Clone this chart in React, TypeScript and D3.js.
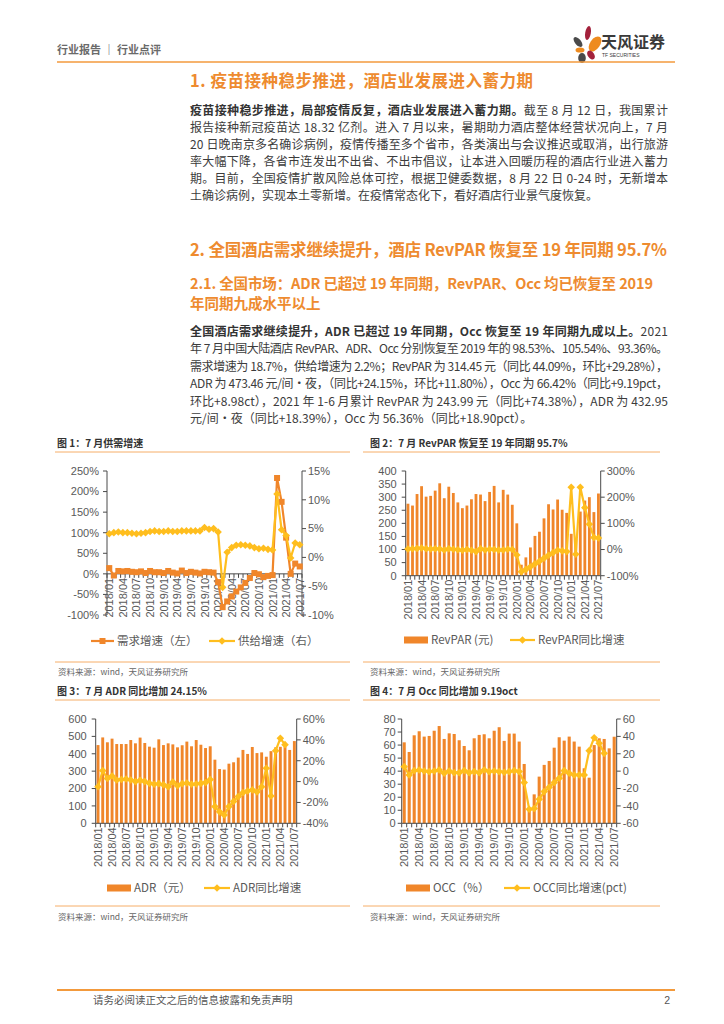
import React from "react";
import * as d3 from "d3";

// ---------- DATA ----------
const months = [
  "2018/01","2018/02","2018/03","2018/04","2018/05","2018/06","2018/07","2018/08","2018/09","2018/10","2018/11","2018/12",
  "2019/01","2019/02","2019/03","2019/04","2019/05","2019/06","2019/07","2019/08","2019/09","2019/10","2019/11","2019/12",
  "2020/01","2020/02","2020/03","2020/04","2020/05","2020/06","2020/07","2020/08","2020/09","2020/10","2020/11","2020/12",
  "2021/01","2021/02","2021/03","2021/04","2021/05","2021/06","2021/07",
];
const xTickLabels = [
  "2018/01","2018/04","2018/07","2018/10","2019/01","2019/04","2019/07","2019/10",
  "2020/01","2020/04","2020/07","2020/10","2021/01","2021/04","2021/07",
];

// Chart 1: demand growth (left, %), supply growth (right, %)
const demandGrowth = [
  14, -4, 7, 6, 7, 5, 4, 6, 2, 7, 4, 4,
  2, 7, 3, 1, 8, 2, 5, 3, 1, 5, 4, 3,
  -20, -81, -67, -55, -43, -33, -22, -10, 2, -1, -8, -5,
  -3, 233, 175, 88, 0, 25, 18,
];
const supplyGrowth = [
  4.1, 4.3, 4.4, 4.3, 4.3, 4.2, 4.1, 4.2, 4.3, 4.5, 4.6, 4.5,
  4.5, 4.6, 4.5, 4.5, 4.6, 4.6, 4.6, 4.6, 4.6, 5.2, 4.9, 5.0,
  4.4, -5.2, 0.9, 1.7, 2.1, 2.2, 2.1, 2.0, 1.7, 1.5, 1.6, 1.4,
  1.3, 11.0, 4.8, 3.8, -0.1, 2.5, 2.2,
];

// Chart 2: RevPAR (yuan) and YoY (%)
const revpar = [
  275, 268, 312, 342, 302, 305, 325, 353, 296, 340, 316, 280,
  258, 268, 292, 312, 310, 285, 320, 343, 280, 328, 310, 271,
  200, 42, 70, 108, 152, 168, 219, 273, 253, 291, 252, 240,
  160, 140, 245, 287, 300, 243, 314,
];
const revparYoY = [
  2, 3, 4, 6, 3, 2, 3, 2, -2, 3, 1, -1,
  -3, 0, -3, -8, 3, -2, 1, 0, -2, -2, 1, 0,
  -21, -85, -76, -66, -55, -45, -33, -22, -12, -3, -5, -8,
  238, -18, 238, 160, 97, 46, 44,
];

// Chart 3: ADR (yuan) and YoY (%)
const adr = [
  450, 494, 466, 487, 456, 456, 456, 479, 460, 493, 462, 441,
  435, 483, 450, 460, 454, 437, 449, 470, 443, 479, 452, 433,
  443, 366, 312, 309, 343, 351, 378, 422, 399, 439, 404, 408,
  383, 415, 437, 440, 442, 422, 473,
];
const adrYoY: (number | null)[] = [
  -5, 10.5, 3, 5.4, 1.5, 2, 2.5, 1.5, 0, 1.2, 0, -1.7,
  -2.6, -2, -3, -5, -0.4, -4, -2, -1.3, -2.6, -2.3, -1.7, -1,
  1.9, -24, -29, -32, -24, -19, -14.4, -10.6, -9, -8, -10, -5,
  12.8, -13.8, 29.6, 41.5, 35.4, null, null,
];

// Chart 4: OCC (%) and YoY (pct)
const occ = [
  62.1, 54.7, 67.5, 70.6, 66.5, 67, 71, 74.6, 64.7, 69, 68.5, 63.7,
  59.3, 56, 65.2, 67.8, 68.3, 65.2, 71, 73.7, 63.2, 68.8, 68.8, 62.7,
  45.5, 11, 22.2, 35.8, 44.8, 47.8, 58, 66, 63.4, 66.5, 62.7, 58.8,
  42.2, 35, 60, 65.2, 64.7, 57.5, 66.4,
];
const occYoY: (number | null)[] = [
  5.2, -4.4, 0.6, 1.4, 0.2, -0.5, 0.2, 1.4, -2.4, 0.2, -1.7, -1.7,
  0.6, -1.7, -0.5, -1.7, 1.4, -0.5, 0.2, -0.5, -1.3, -0.5, 0.6, -0.5,
  -13.2, -43.9, -43, -32.4, -23.5, -18.6, -13.2, -8.2, 0.6, -2.4, -4.4, -4.4,
  -4.4, 23.6, 38.5, 32, 20.5, null, null,
];

const ticks1L = [-100, -50, 0, 50, 100, 150, 200, 250];
const ticks1R = [-10, -5, 0, 5, 10, 15];
const ticks2L = [0, 50, 100, 150, 200, 250, 300, 350, 400];
const ticks2R = [-100, 0, 100, 200, 300];
const ticks3L = [0, 100, 200, 300, 400, 500, 600];
const ticks3R = [-40, -20, 0, 20, 40, 60];
const ticks4L = [0, 10, 20, 30, 40, 50, 60, 70, 80];
const ticks4R = [-60, -40, -20, 0, 20, 40, 60];

// ---------- STYLE ----------
const ORANGE_T = "#EE8B2F";
const RULE = "#F39A3C";
const RULE_L = "#F6AE68";
const BAR = "#F0862A";
const LINE_Y = "#FFBE1E";
const LINE_O = "#F0862A";
const AXIS = "#4a4a4a";
const TICK_TXT = "#595959";
const BODY = "#3c3c3c";
const CJK = "'Noto Sans CJK SC', 'Noto Sans', sans-serif";
const LAT = "'Liberation Sans', Arial, sans-serif";

const diamond = (cx: number, cy: number, r: number) =>
  `M${cx},${cy - r}L${cx + r},${cy}L${cx},${cy + r}L${cx - r},${cy}Z`;

type LineSpec = {
  values: (number | null)[];
  axis: "left" | "right";
  color: string;
  marker: "square" | "diamond";
};
type LegendItem = {
  kind: "bar" | "line";
  color: string;
  marker?: "square" | "diamond";
  x1: number;
  x2: number;
  label: string;
};

function Marker({ kind, x, y, color }: { kind: "square" | "diamond"; x: number; y: number; color: string }) {
  if (kind === "square") return <rect x={x - 3} y={y - 3} width={6} height={6} fill={color} />;
  return <path d={diamond(x, y, 3.8)} fill={color} />;
}

function DualChart(props: {
  left: number; right: number; top: number; bottom: number;
  leftDomain: [number, number]; rightDomain: [number, number];
  leftTicks: number[]; rightTicks: number[];
  leftFmt: (v: number) => string; rightFmt: (v: number) => string;
  base: number; bars?: number[]; lines: LineSpec[];
  legendY: number; legend: LegendItem[]; leftGap: number;
}) {
  const { left, right, top, bottom, leftDomain, rightDomain, leftTicks, rightTicks, leftFmt, rightFmt, base, bars, lines, legendY, legend, leftGap } = props;
  const x = d3.scaleBand<string>().domain(months).range([left, right]);
  const bw = x.bandwidth();
  const cx = (i: number) => (x(months[i]) ?? 0) + bw / 2;
  const yL = d3.scaleLinear().domain(leftDomain).range([bottom, top]);
  const yR = d3.scaleLinear().domain(rightDomain).range([bottom, top]);
  const axisY = yL(base);
  const barW = bw * 0.62;

  return (
    <g>
      {bars &&
        bars.map((v, i) => (
          <rect key={i} x={cx(i) - barW / 2} width={barW} y={yL(v)} height={yL(0) - yL(v)} fill={BAR} />
        ))}
      {/* left axis */}
      <line x1={left} x2={left} y1={top} y2={bottom} stroke={AXIS} strokeWidth={1} />
      {leftTicks.map((t) => (
        <g key={"l" + t}>
          <line x1={left - 4} x2={left} y1={yL(t)} y2={yL(t)} stroke={AXIS} />
          <text x={left - leftGap} y={yL(t)} dy="0.35em" textAnchor="end" fontSize={11} fill={TICK_TXT} fontFamily={LAT}>
            {leftFmt(t)}
          </text>
        </g>
      ))}
      {/* right axis */}
      <line x1={right} x2={right} y1={top} y2={bottom} stroke={AXIS} strokeWidth={1} />
      {rightTicks.map((t) => (
        <g key={"r" + t}>
          <line x1={right} x2={right + 4} y1={yR(t)} y2={yR(t)} stroke={AXIS} />
          <text x={right + 6} y={yR(t)} dy="0.35em" textAnchor="start" fontSize={11} fill={TICK_TXT} fontFamily={LAT}>
            {rightFmt(t)}
          </text>
        </g>
      ))}
      {/* x axis */}
      <line x1={left} x2={right} y1={axisY} y2={axisY} stroke={AXIS} />
      {months.map((m) => (
        <line key={m} x1={x(m)} x2={x(m)} y1={axisY} y2={axisY + 4} stroke={AXIS} />
      ))}
      <line x1={right} x2={right} y1={axisY} y2={axisY + 4} stroke={AXIS} />
      {xTickLabels.map((lab) => {
        const px = (x(lab) ?? 0) + bw / 2 + 4;
        const py = axisY + 4;
        return (
          <text key={lab} transform={`translate(${px},${py}) rotate(-90)`} textAnchor="end" fontSize={11} fill={TICK_TXT} fontFamily={LAT}>
            {lab}
          </text>
        );
      })}
      {/* lines */}
      {lines.map((ls, k) => {
        const ys = ls.axis === "left" ? yL : yR;
        const gen = d3
          .line<number | null>()
          .defined((d) => d !== null)
          .x((_, i) => cx(i))
          .y((d) => ys(d as number));
        return (
          <g key={k}>
            <path d={gen(ls.values) ?? ""} fill="none" stroke={ls.color} strokeWidth={2.2} strokeLinejoin="round" />
            {ls.values.map((v, i) =>
              v === null ? null : <Marker key={i} kind={ls.marker} x={cx(i)} y={ys(v)} color={ls.color} />
            )}
          </g>
        );
      })}
      {/* legend */}
      {legend.map((it, k) => (
        <g key={"lg" + k}>
          {it.kind === "bar" ? (
            <rect x={it.x1} y={legendY - 3.5} width={it.x2 - it.x1} height={7} fill={it.color} />
          ) : (
            <g>
              <line x1={it.x1} x2={it.x2} y1={legendY} y2={legendY} stroke={it.color} strokeWidth={2.2} />
              <Marker kind={it.marker || "diamond"} x={(it.x1 + it.x2) / 2} y={legendY} color={it.color} />
            </g>
          )}
          <text x={it.x2 + 3} y={legendY} dy="0.36em" fontSize={11.5} fill={TICK_TXT} fontFamily={CJK}>
            {it.label}
          </text>
        </g>
      ))}
    </g>
  );
}

type Seg = { t: string; b?: boolean };
function PLine({ x, y, w, segs, size, color }: { x: number; y: number; w?: number; segs: Seg[]; size: number; color: string }) {
  return (
    <text x={x} y={y} fontSize={size} fill={color} fontFamily={CJK} textLength={w} lengthAdjust={w ? "spacing" : undefined}>
      {segs.map((s, i) => (
        <tspan key={i} fontWeight={s.b ? 700 : 400} fill={s.b ? "#333" : color}>
          {s.t}
        </tspan>
      ))}
    </text>
  );
}

const para1: Seg[][] = [
  [{ t: "疫苗接种稳步推进，局部疫情反复，酒店业发展进入蓄力期。", b: true }, { t: "截至 8 月 12 日，我国累计" }],
  [{ t: "报告接种新冠疫苗达 18.32 亿剂。进入 7 月以来，暑期助力酒店整体经营状况向上，7 月" }],
  [{ t: "20 日晚南京多名确诊病例，疫情传播至多个省市，各类演出与会议推迟或取消，出行旅游" }],
  [{ t: "率大幅下降，各省市连发出不出省、不出市倡议，让本进入回暖历程的酒店行业进入蓄力" }],
  [{ t: "期。目前，全国疫情扩散风险总体可控，根据卫健委数据，8 月 22 日 0-24 时，无新增本" }],
  [{ t: "土确诊病例，实现本土零新增。在疫情常态化下，看好酒店行业景气度恢复。" }],
];
const para2: Seg[][] = [
  [{ t: "全国酒店需求继续提升，ADR 已超过 19 年同期，Occ 恢复至 19 年同期九成以上。", b: true }, { t: "2021" }],
  [{ t: "年 7 月中国大陆酒店 RevPAR、ADR、Occ 分别恢复至 2019 年的 98.53%、105.54%、93.36%。" }],
  [{ t: "需求增速为 18.7%，供给增速为 2.2%；RevPAR 为 314.45 元（同比 44.09%，环比+29.28%），" }],
  [{ t: "ADR 为 473.46 元/间·夜，（同比+24.15%，环比+11.80%），Occ 为 66.42%（同比+9.19pct，" }],
  [{ t: "环比+8.98ct），2021 年 1-6 月累计 RevPAR 为 243.99 元（同比+74.38%），ADR 为 432.95" }],
  [{ t: "元/间·夜（同比+18.39%），Occ 为 56.36%（同比+18.90pct）。" }],
];

const pct = (v: number) => `${v}%`;
const plain = (v: number) => `${v}`;

export default function App() {
  return (
    <svg width={724} height={1024} style={{ position: "absolute", left: 0, top: 0, background: "#fff" }} fontFamily={CJK}>
      <rect width={724} height={1024} fill="#fff" />
      {/* header */}
      <text x={57} y={54} fontSize={11} fontWeight={700} fill="#6a6a6a">行业报告 ｜ 行业点评</text>
      <g>
        <ellipse cx={588} cy={33} rx={2.8} ry={7} fill="#A3213B" transform="rotate(10 588 33)" />
        <ellipse cx={578} cy={42} rx={3} ry={6} fill="#4a4a4a" transform="rotate(-40 578 42)" />
        <ellipse cx={595} cy={44} rx={5} ry={8.5} fill="#EE8B1F" transform="rotate(35 595 44)" />
        <ellipse cx={580} cy={50} rx={4.5} ry={2.6} fill="#EE8B1F" />
        <ellipse cx={591} cy={55} rx={3.2} ry={5} fill="#A3213B" transform="rotate(-35 591 55)" />
        <ellipse cx={582} cy={58} rx={3.8} ry={5} fill="#4a4a4a" />
      </g>
      <text x={601} y={48} fontSize={16} fontWeight={700} fill="#3a3a3a">天风证券</text>
      <text x={602} y={57} fontSize={5} fill="#3a3a3a" fontFamily={LAT}>TF SECURITIES</text>
      <line x1={57} x2={675} y1={62} y2={62} stroke={RULE} strokeWidth={1.6} />

      {/* section 1 */}
      <text x={190} y={87} fontSize={16.5} fontWeight={700} fill={ORANGE_T} textLength={343} lengthAdjust="spacing">
        1. 疫苗接种稳步推进，酒店业发展进入蓄力期
      </text>
      {para1.map((segs, i) => (
        <PLine key={i} x={190} y={114.5 + i * 17} w={i < para1.length - 1 ? 478 : undefined} segs={segs} size={12} color={BODY} />
      ))}

      {/* section 2 */}
      <text x={190} y={256} fontSize={16.5} fontWeight={700} fill={ORANGE_T} textLength={477} lengthAdjust="spacing">
        2. 全国酒店需求继续提升，酒店 RevPAR 恢复至 19 年同期 95.7%
      </text>
      <text x={190} y={289} fontSize={14.5} fontWeight={700} fill={ORANGE_T} textLength={463} lengthAdjust="spacing">
        2.1. 全国市场：ADR 已超过 19 年同期，RevPAR、Occ 均已恢复至 2019
      </text>
      <text x={190} y={309} fontSize={14.5} fontWeight={700} fill={ORANGE_T}>
        年同期九成水平以上
      </text>
      {para2.map((segs, i) => (
        <PLine key={i} x={190} y={335.5 + i * 17.5} w={i < para2.length - 1 ? 478 : undefined} segs={segs} size={12} color={BODY} />
      ))}

      {/* figure titles and rules */}
      <text x={57} y={447} fontSize={10} fontWeight={700} fill="#333">图 1：7 月供需增速</text>
      <text x={370} y={447} fontSize={10} fontWeight={700} fill="#333">图 2：7 月 RevPAR 恢复至 19 年同期 95.7%</text>
      <line x1={55} x2={350} y1={452} y2={452} stroke={RULE_L} />
      <line x1={363} x2={660} y1={452} y2={452} stroke={RULE_L} />

      <line x1={55} x2={350} y1={662} y2={662} stroke={RULE_L} />
      <line x1={363} x2={660} y1={662} y2={662} stroke={RULE_L} />
      <text x={58} y={675} fontSize={8.5} fill="#666">资料来源：wind，天风证券研究所</text>
      <text x={370} y={675} fontSize={8.5} fill="#666">资料来源：wind，天风证券研究所</text>
      <text x={57} y={695} fontSize={10} fontWeight={700} fill="#333">图 3：7 月 ADR 同比增加 24.15%</text>
      <text x={370} y={695} fontSize={10} fontWeight={700} fill="#333">图 4：7 月 Occ 同比增加 9.19oct</text>
      <line x1={55} x2={350} y1={700} y2={700} stroke={RULE_L} />
      <line x1={363} x2={660} y1={700} y2={700} stroke={RULE_L} />

      <line x1={55} x2={350} y1={906} y2={906} stroke={RULE_L} />
      <line x1={363} x2={660} y1={906} y2={906} stroke={RULE_L} />
      <text x={58} y={920} fontSize={8.5} fill="#666">资料来源：wind，天风证券研究所</text>
      <text x={370} y={920} fontSize={8.5} fill="#666">资料来源：wind，天风证券研究所</text>

      {/* chart 1 */}
      <DualChart
        left={107} right={302} top={471} bottom={615}
        leftDomain={[-100, 250]} rightDomain={[-10, 15]}
        leftTicks={ticks1L} rightTicks={ticks1R}
        leftFmt={pct} rightFmt={pct} base={0} leftGap={8}
        lines={[
          { values: demandGrowth, axis: "left", color: LINE_O, marker: "square" },
          { values: supplyGrowth, axis: "right", color: LINE_Y, marker: "diamond" },
        ]}
        legendY={641}
        legend={[
          { kind: "line", color: LINE_O, marker: "square", x1: 91, x2: 114, label: "需求增速（左）" },
          { kind: "line", color: LINE_Y, marker: "diamond", x1: 209, x2: 235, label: "供给增速（右）" },
        ]}
      />
      {/* chart 2 */}
      <DualChart
        left={405.7} right={600.7} top={471} bottom={575.7}
        leftDomain={[0, 400]} rightDomain={[-100, 300]}
        leftTicks={ticks2L} rightTicks={ticks2R}
        leftFmt={plain} rightFmt={pct} base={0} leftGap={9}
        bars={revpar}
        lines={[{ values: revparYoY, axis: "right", color: LINE_Y, marker: "diamond" }]}
        legendY={640}
        legend={[
          { kind: "bar", color: BAR, x1: 404, x2: 428, label: "RevPAR (元)" },
          { kind: "line", color: LINE_Y, marker: "diamond", x1: 510, x2: 535, label: "RevPAR同比增速" },
        ]}
      />
      {/* chart 3 */}
      <DualChart
        left={95.7} right={296.7} top={719} bottom={823.3}
        leftDomain={[0, 600]} rightDomain={[-40, 60]}
        leftTicks={ticks3L} rightTicks={ticks3R}
        leftFmt={plain} rightFmt={pct} base={0} leftGap={9}
        bars={adr}
        lines={[{ values: adrYoY, axis: "right", color: LINE_Y, marker: "diamond" }]}
        legendY={888}
        legend={[
          { kind: "bar", color: BAR, x1: 107, x2: 131, label: "ADR（元）" },
          { kind: "line", color: LINE_Y, marker: "diamond", x1: 204, x2: 230, label: "ADR同比增速" },
        ]}
      />
      {/* chart 4 */}
      <DualChart
        left={401.7} right={616.7} top={719} bottom={823.3}
        leftDomain={[0, 80]} rightDomain={[-60, 60]}
        leftTicks={ticks4L} rightTicks={ticks4R}
        leftFmt={plain} rightFmt={plain} base={0} leftGap={6}
        bars={occ}
        lines={[{ values: occYoY, axis: "right", color: LINE_Y, marker: "diamond" }]}
        legendY={888}
        legend={[
          { kind: "bar", color: BAR, x1: 406, x2: 430, label: "OCC（%）" },
          { kind: "line", color: LINE_Y, marker: "diamond", x1: 504, x2: 530, label: "OCC同比增速(pct)" },
        ]}
      />

      {/* footer */}
      <line x1={57} x2={675} y1={990} y2={990} stroke={RULE} strokeWidth={2} />
      <text x={93} y={1004} fontSize={10.5} fill="#555">请务必阅读正文之后的信息披露和免责声明</text>
      <text x={670} y={1004} fontSize={10.5} fill="#555" fontFamily={LAT} textAnchor="end">2</text>
    </svg>
  );
}
